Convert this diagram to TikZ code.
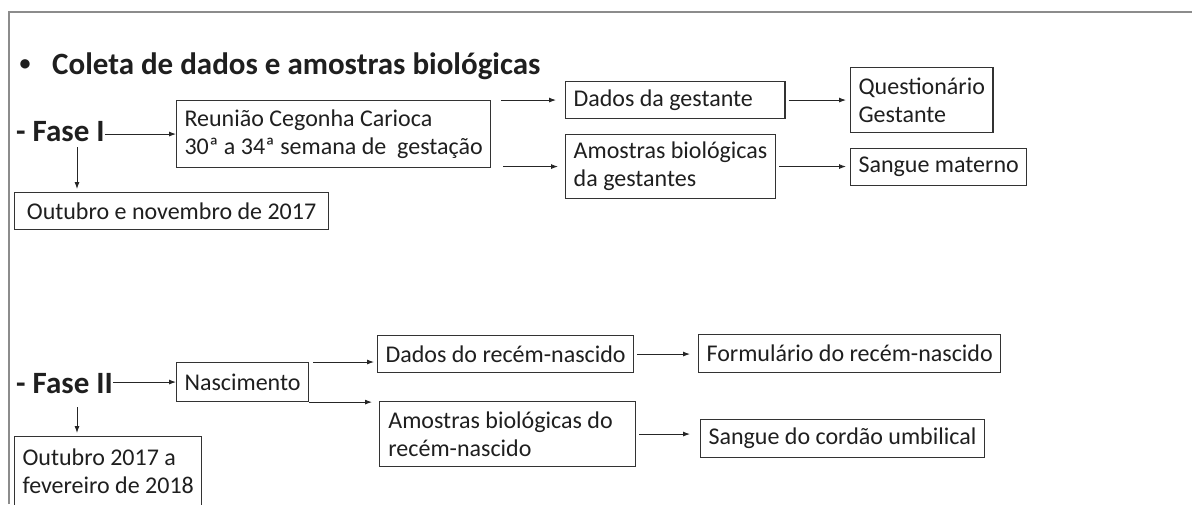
\documentclass[tikz,border=0pt]{standalone}
\usepackage{fontspec}
\setmainfont{Carlito}
\usetikzlibrary{arrows.meta,calc}
\begin{document}
\begin{tikzpicture}[x=1pt,y=-1pt,
  txt/.style={font=\fontsize{24}{28}\selectfont, text=black!88},
  bx/.style={txt, draw=black!80, line width=1.1pt, anchor=north west, align=left, inner xsep=8pt, inner ysep=4pt},
  hd/.style={font=\fontsize{31}{36}\selectfont\bfseries, text=black!88, anchor=base west, inner sep=0pt},
  arr/.style={draw=black!85, line width=0.9pt, -{Latex[length=7pt,width=5pt]}},
  frame/.style={draw=black!45, line width=1.5pt}]
\useasboundingbox (0,0) rectangle (1192,504);
\fill[white] (0,0) rectangle (1192,504);
% frame
\draw[frame] (9,504) -- (9,12) -- (1192,12);
% title
\node[font=\fontsize{22}{26}\selectfont\bfseries, text=black!88, inner sep=0pt] (bul) at (25,65) {•};
\node[hd] (title) at (52,74) {Coleta de dados e amostras biológicas};
% Fase I
\node[hd] (f1) at (16,141) {- Fase I};
\node[bx, minimum width=312pt, minimum height=67pt] (reu) at (176,100) {Reunião Cegonha Carioca\\30ª a 34ª semana de\ \ gestação};
\node[bx, minimum width=314pt, minimum height=37pt] (out1) at (14,192) {Outubro e novembro de 2017};
\node[bx, minimum width=210pt, minimum height=37pt] (dg) at (565,81) {Dados da gestante\hphantom{ab}};
\node[bx, minimum width=210pt, minimum height=64pt] (amg) at (565,134) {Amostras biológicas\\da gestantes};
\node[bx, minimum height=65pt] (quest) at (850,67) {Questionário\\Gestante};
\node[bx, minimum height=37pt] (sm) at (850,148) {Sangue materno};
\coordinate (d1) at (77,147);
\draw[arr] (f1.east |- reu.west) -- (reu.west);
\draw[arr, shorten >=3pt] (d1) -- (d1 |- out1.north);
\draw[arr] ($(reu.east |- dg.west)+(10,0)$) -- ($(dg.west)+(-9,0)$);
\draw[arr] ($(reu.east |- amg.west)+(12,0)$) -- ($(amg.west)+(-7,0)$);
\draw[arr] ($(dg.east)+(3,0)$) -- ($(dg.east -| quest.west)+(-4,0)$);
\draw[arr] ($(amg.east)+(3,0)$) -- ($(amg.east -| sm.west)+(-4,0)$);
% Fase II
\node[hd] (f2) at (16,393) {- Fase II};
\node[bx, minimum height=39pt] (nasc) at (176,362) {Nascimento};
\node[bx, minimum width=256pt, minimum height=37pt] (dr) at (377,335) {Dados do recém-nascido};
\node[bx, minimum width=256pt, minimum height=65pt] (amr) at (379,401) {Amostras biológicas do\hspace*{14pt}\\recém-nascido};
\node[bx, minimum height=38pt] (form) at (698,334) {Formulário do recém-nascido};
\node[bx, minimum height=38pt] (sc) at (700,419) {Sangue do cordão umbilical};
\node[bx, minimum height=70pt] (out2) at (14,436) {Outubro 2017 a\\fevereiro de 2018};
\coordinate (d2) at (77,407);
\draw[arr] (f2.east |- nasc.west) -- (nasc.west);
\draw[arr, shorten >=3pt] (d2) -- (d2 |- out2.north);
\draw[arr] ($(nasc.north east)+(4,0)$) -- ($(nasc.north east -| dr.west)+(-3,0)$);
\draw[arr] (nasc.south east) -- ($(nasc.south east -| amr.west)+(-7,0)$);
\draw[arr] ($(dr.east)+(3,0)$) -- ($(dr.east -| form.west)+(-8,0)$);
\draw[arr] ($(amr.east)+(3,0)$) -- ($(amr.east -| sc.west)+(-10,0)$);
\end{tikzpicture}
\end{document}
